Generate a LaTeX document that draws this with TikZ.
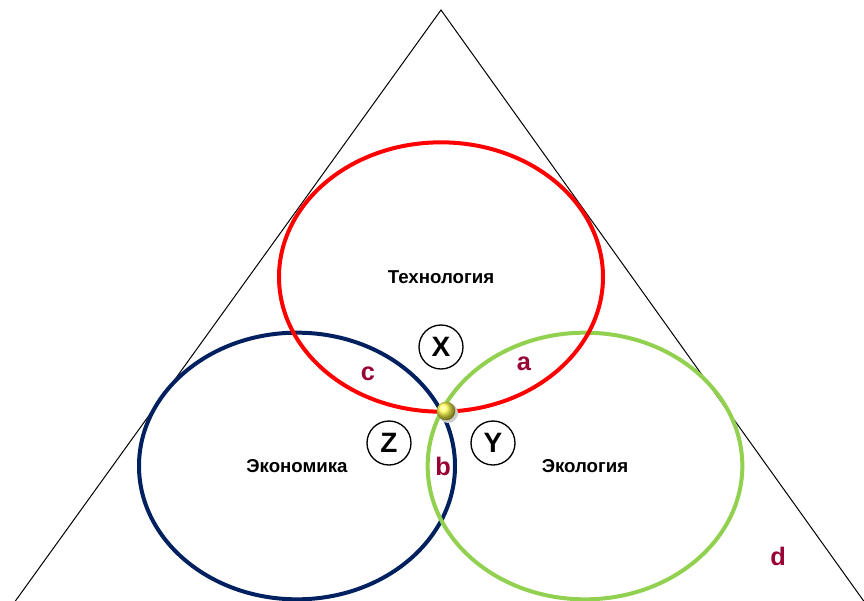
\documentclass[tikz,border=0pt]{standalone}
\usepackage{fontspec}
\setmainfont{Liberation Sans}
\usepackage{xcolor}
\usetikzlibrary{positioning}
\usetikzlibrary{shapes.geometric}

\definecolor{techred}{RGB}{255,0,0}
\definecolor{econblue}{RGB}{0,32,96}
\definecolor{ecogreen}{RGB}{146,208,80}
\definecolor{zonered}{RGB}{153,0,51}

\begin{document}
\begin{tikzpicture}[x=0.75pt,y=-0.75pt,
    area/.style={ellipse, draw, line width=3pt, inner sep=0pt,
        font=\bfseries\fontsize{14}{17}\selectfont},
    letter/.style={circle, draw, line width=1pt, minimum size=33pt, inner sep=0pt,
        font=\bfseries\fontsize{21}{24}\selectfont},
    zone/.style={text=zonered, font=\bfseries\fontsize{19}{22}\selectfont}]
    \useasboundingbox (0,0) rectangle (864,600);

    % Draw the triangle
    \coordinate (top) at (441,10);
    \coordinate (left) at (6,614);
    \coordinate (right) at (873,614);
    \draw[line width=0.75pt] (top) -- (left) -- (right) -- cycle;

    % Draw the three areas
    \node[area, draw=econblue, minimum width=237pt, minimum height=200pt] (econ) at (297,466) {Экономика};
    \node[area, draw=ecogreen, minimum width=236pt, minimum height=200pt] (eco) at (585,466) {Экология};
    \node[area, draw=techred, minimum width=243pt, minimum height=202pt] (tech) at (441,277) {Технология};

    % Draw the letters
    \node[letter] (x) at (441,347) {X};
    \node[letter] (z) at (389,443) {Z};
    \node[letter] (y) at (493,443) {Y};

    % Draw the zones
    \node[zone] (a) at (524,364) {a};
    \node[zone] (b) at (443,466) {b};
    \node[zone] (c) at (368,374) {c};
    \node[zone] (d) at (778,556) {d};

    % Draw the meeting point
    \fill[black!20] (448,413) circle (7.5pt);
    \node[circle, ball color=yellow!70!white, minimum size=14pt, inner sep=0pt] (meet) at (446,411) {};
\end{tikzpicture}
\end{document}
